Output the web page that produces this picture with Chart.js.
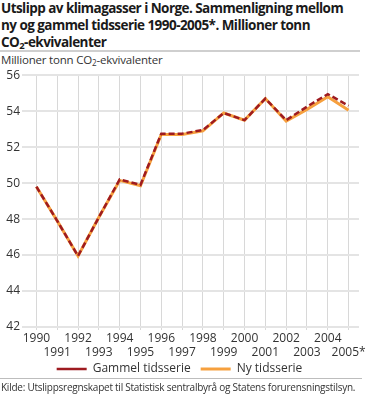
<!DOCTYPE html>
<html>
<head>
<meta charset="utf-8">
<script src="https://cdn.jsdelivr.net/npm/chart.js@4.4.1/dist/chart.umd.min.js"></script>
<style>
  html, body { margin: 0; padding: 0; background: #fff; }
  body { width: 367px; height: 395px; position: relative; overflow: hidden; font-family: "Open Sans", sans-serif; color: #1a1a1a; }
  #title { position: absolute; left: 1px; top: 0; width: 366px; font-weight: bold; font-size: 13.5px; letter-spacing: -0.55px; line-height: 17px; white-space: nowrap; }
  #rule1 { position: absolute; left: 0; top: 50px; width: 360px; height: 2px; background: #cfcfcf; }
  #unit { position: absolute; left: 1px; top: 53px; font-size: 11.5px; letter-spacing: -0.2px; line-height: 14px; color: #333; }
  #wrap { position: absolute; left: 0; top: 66px; width: 367px; height: 328px; }
  #rule2 { position: absolute; left: 0; top: 378px; width: 362px; height: 1px; background: #bdbdbd; }
  #source { position: absolute; left: 1px; top: 381px; font-size: 10px; letter-spacing: -0.25px; line-height: 13px; color: #333; white-space: nowrap; }
  sub { font-size: 70%; vertical-align: -2px; line-height: 0; }
</style>
</head>
<body>
<div id="title">Utslipp av klimagasser i Norge. Sammenligning mellom<br>ny og gammel tidsserie 1990-2005*. Millioner tonn<br>CO<sub>2</sub>-ekvivalenter</div>
<div id="rule1"></div>
<div id="unit">Millioner tonn CO<sub>2</sub>-ekvivalenter</div>
<div id="wrap"><canvas id="chart"></canvas></div>
<div id="rule2"></div>
<div id="source">Kilde: Utslippsregnskapet til Statistisk sentralbyrå og Statens forurensningstilsyn.</div>
<script>
// Data
const years = ['1990', '1991', '1992', '1993', '1994', '1995', '1996', '1997',
               '1998', '1999', '2000', '2001', '2002', '2003', '2004', '2005*'];
const gammelSerie = [49.8, 47.9, 45.95, 48.1, 50.2, 49.9, 52.75, 52.75, 52.95, 53.9, 53.5, 54.7, 53.5, 54.25, 54.95, 54.3];
const nySerie = [49.8, 47.9, 45.95, 48.1, 50.15, 49.85, 52.7, 52.7, 52.9, 53.9, 53.5, 54.7, 53.45, 54.1, 54.8, 54.05];
const yMin = 42, yMax = 56, yStep = 2;

const tickFont = { family: '"Open Sans", sans-serif', size: 12 };

// pull the legend up under the staggered year labels
const legendPlacer = {
    id: 'legendPlacer',
    afterLayout: function(chart) {
        const legend = chart.legend;
        const h = legend.bottom - legend.top;
        legend.top = chart.chartArea.bottom + 26;
        legend.bottom = legend.top + h;
    }
};

const ctx = document.getElementById('chart').getContext('2d');
const chart = new Chart(ctx, {
    type: 'line',
    data: {
        labels: years,
        datasets: [{
            label: 'Gammel tidsserie',
            data: gammelSerie,
            borderColor: '#9e1b20',
            backgroundColor: '#9e1b20',
            borderWidth: 2.5,
            borderDash: [6, 3],
            pointRadius: 0,
            tension: 0,
            fill: false
        }, {
            label: 'Ny tidsserie',
            data: nySerie,
            borderColor: '#f6a03e',
            backgroundColor: '#f6a03e',
            borderWidth: 3,
            pointRadius: 0,
            tension: 0,
            fill: false
        }]
    },
    options: {
        responsive: true,
        maintainAspectRatio: false,
        animation: false,
        layout: {
            padding: { top: 9, right: 8, bottom: 1, left: 0 }
        },
        plugins: {
            legend: {
                position: 'bottom',
                labels: {
                    usePointStyle: true,
                    pointStyle: 'line',
                    pointStyleWidth: 30,
                    padding: 10,
                    color: '#333',
                    font: tickFont
                }
            },
            tooltip: { enabled: false }
        },
        scales: {
            x: {
                offset: true,
                grid: { color: '#d8d8d8', lineWidth: 1, tickLength: 3, offset: false },
                border: { display: false },
                ticks: {
                    color: '#333',
                    font: tickFont,
                    padding: 1,
                    maxRotation: 0,
                    autoSkip: false,
                    callback: function(value, index) {
                        const label = years[index];
                        return index % 2 === 0 ? label : ['', label];
                    }
                },
                afterFit: function(scale) { scale.height = 34; }
            },
            y: {
                min: yMin,
                max: yMax,
                grid: { color: '#e4e4e4', lineWidth: 2, tickLength: 4 },
                border: { display: false },
                ticks: {
                    stepSize: yStep,
                    color: '#333',
                    font: tickFont,
                    padding: 2
                },
                afterFit: function(scale) { scale.width = 26; }
            }
        }
    },
    plugins: [legendPlacer]
});
</script>
</body>
</html>
